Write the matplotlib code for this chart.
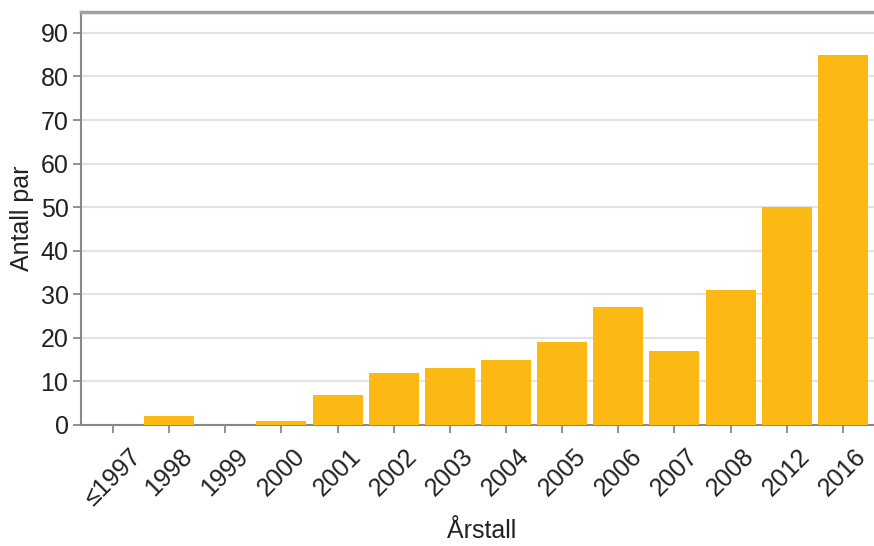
import matplotlib
matplotlib.use("Agg")
import matplotlib.pyplot as plt
import numpy as np

plt.rcParams['font.family'] = ['Liberation Sans', 'DejaVu Sans']

# data
years = ['≤1997', '1998', '1999', '2000', '2001', '2002', '2003',
         '2004', '2005', '2006', '2007', '2008', '2012', '2016']
pairs = [0, 2, 0, 1, 7, 12, 13, 15, 19, 27, 17, 31, 50, 85]
yticks = [0, 10, 20, 30, 40, 50, 60, 70, 80, 90]

bar_color = '#FDB913'
text_color = '#222222'
spine_color = '#888888'

fig = plt.figure(figsize=(8.74, 5.46), dpi=100)
ax = fig.add_axes([81/874, 1 - 425/546, 1 - 81/874 + 0.01, (425 - 12)/546])

x = np.arange(len(years))
ax.bar(x, pairs, width=0.89, color=bar_color, zorder=3)

ax.set_xlim(-0.57, 13.71)
ax.set_ylim(0, 94.8)
ax.set_yticks(yticks)
ax.set_xticks(x)
ax.set_xticklabels(years, rotation=45, ha='center', va='top')

ax.grid(axis='y', color='#e3e3e3', linewidth=1.5, zorder=0)
ax.tick_params(axis='both', labelsize=18, colors=spine_color,
               labelcolor=text_color, length=6, width=1.3)
ax.tick_params(axis='x', pad=8)
ax.tick_params(axis='y', pad=3)

for side in ['left', 'bottom', 'top']:
    ax.spines[side].set_color(spine_color)
    ax.spines[side].set_linewidth(1.5)
ax.spines['top'].set_color('#a0a0a0')
ax.spines['top'].set_linewidth(2.5)
ax.spines['right'].set_visible(False)

ax.set_ylabel('Antall par', fontsize=18, color=text_color, labelpad=5)
ax.set_xlabel('Årstall', fontsize=18, color=text_color, labelpad=6)

fig.savefig('out.png', dpi=100)
